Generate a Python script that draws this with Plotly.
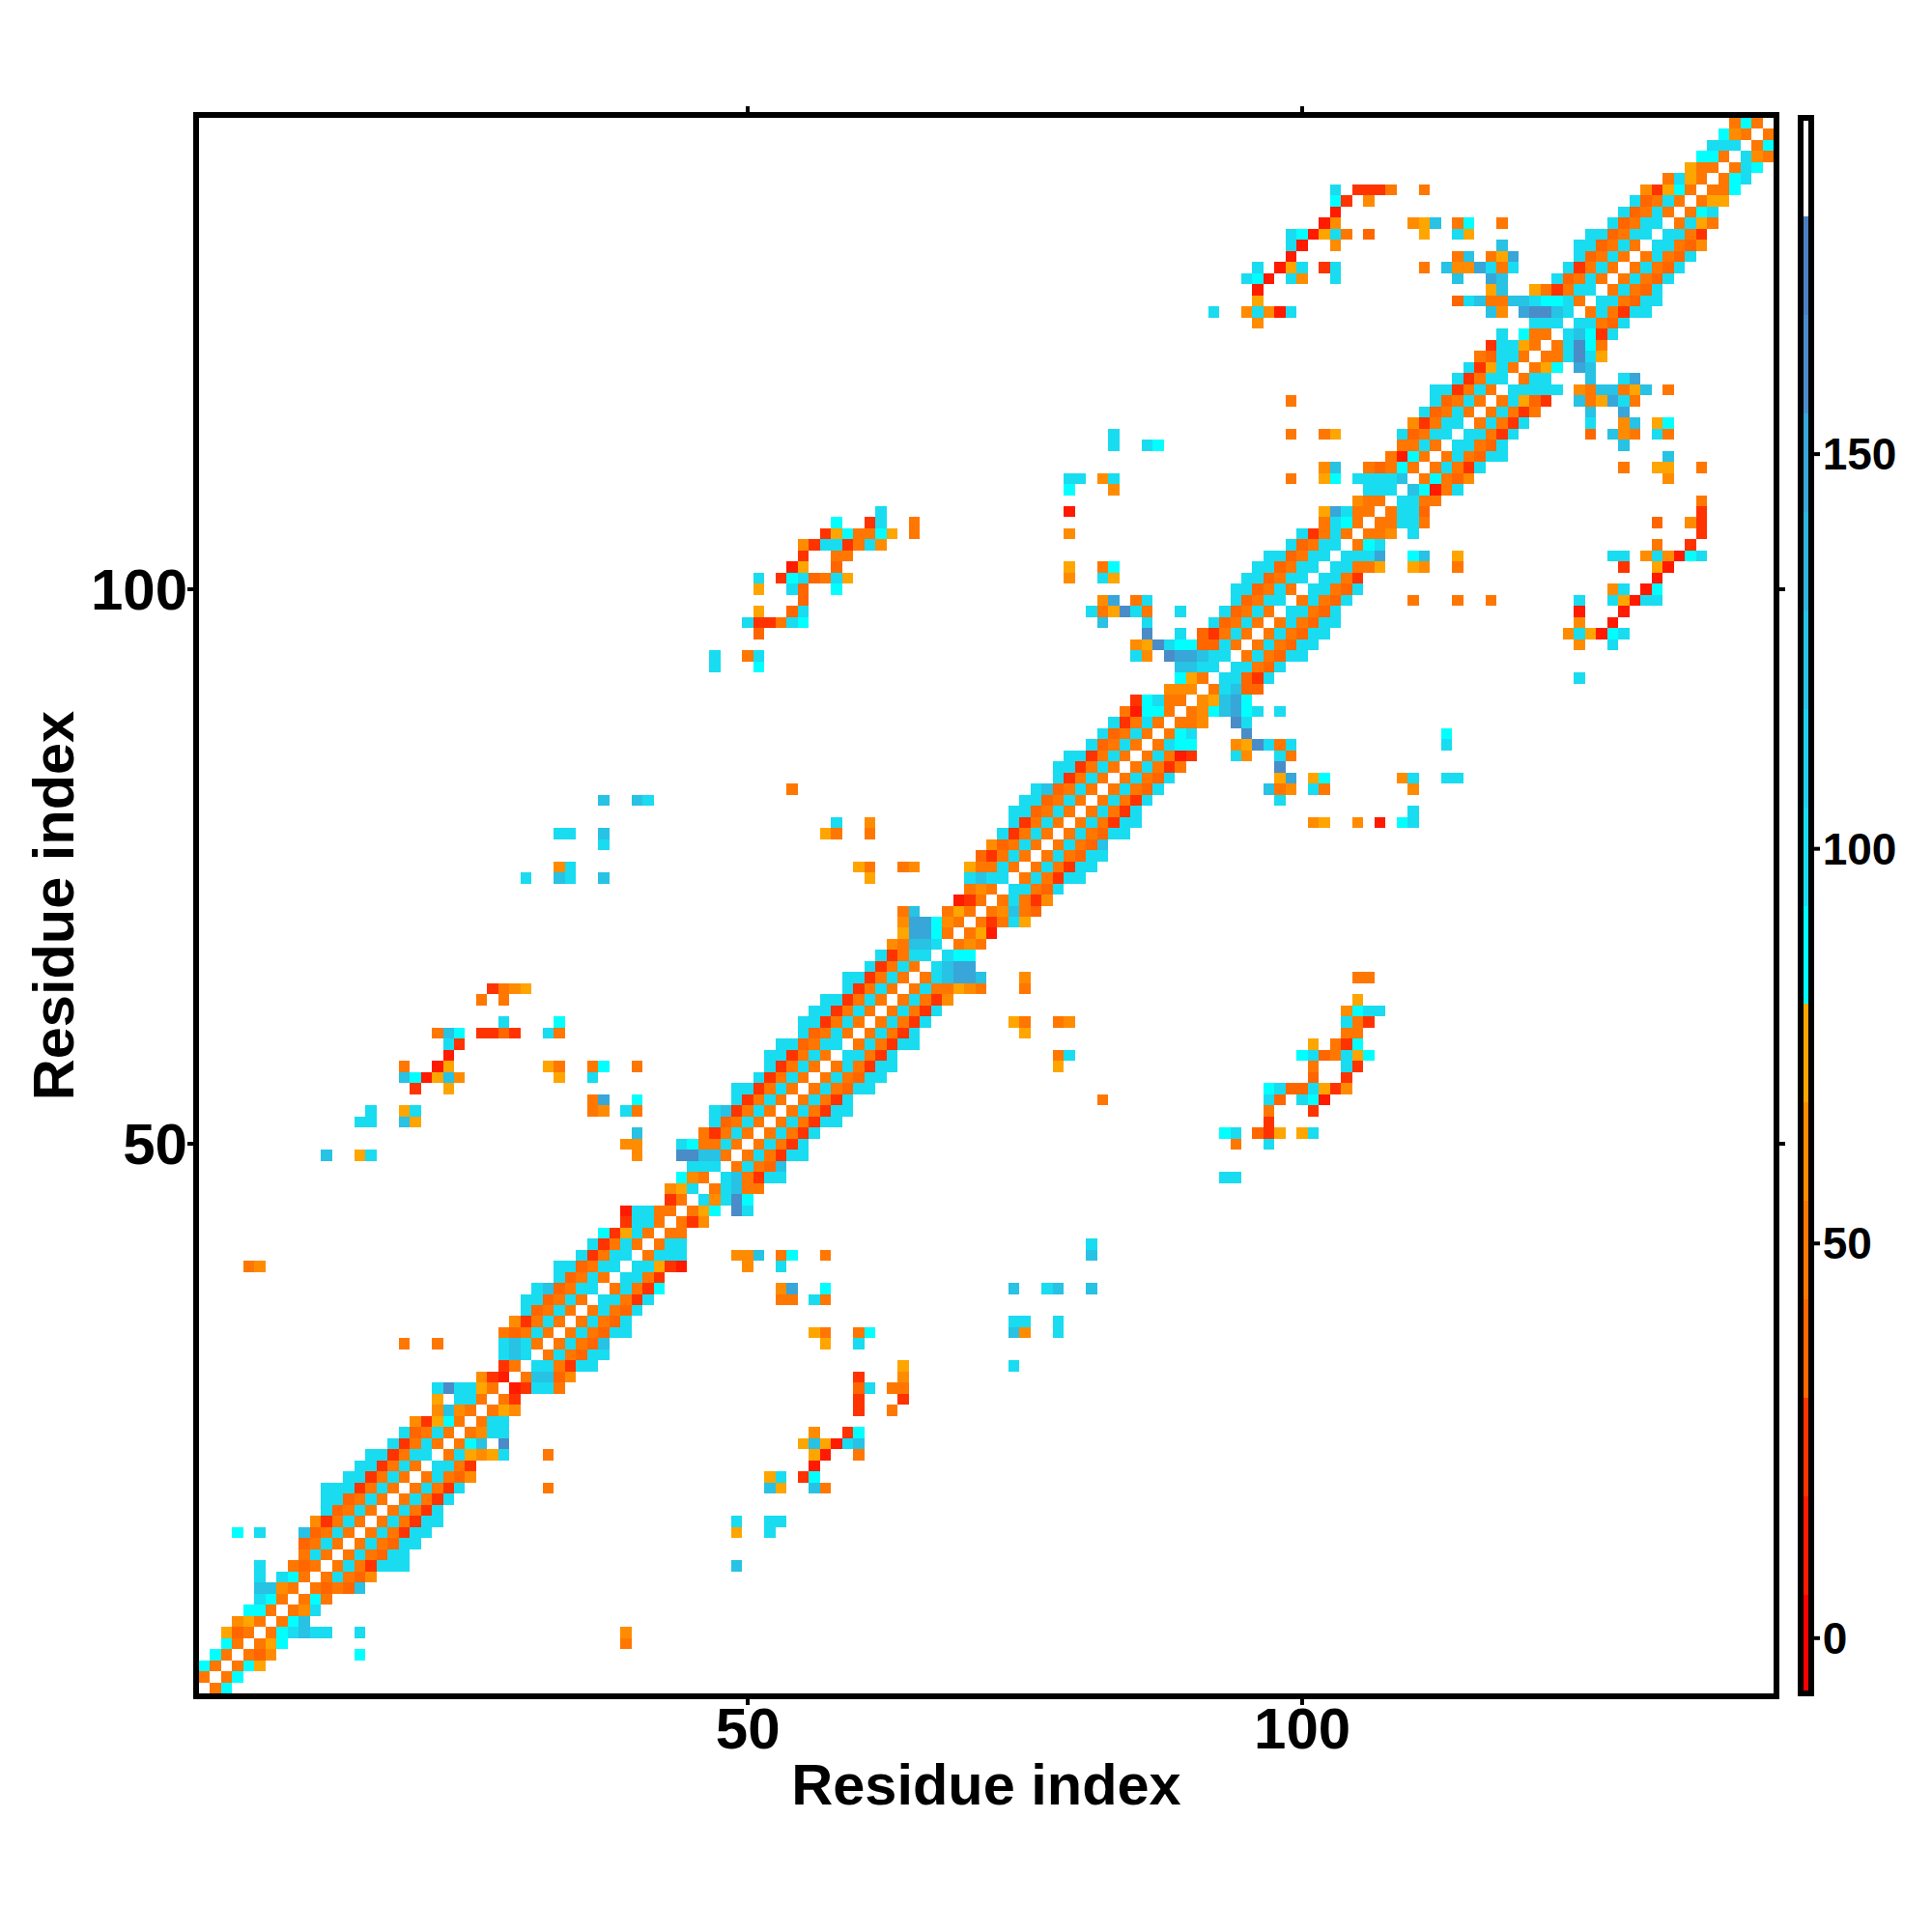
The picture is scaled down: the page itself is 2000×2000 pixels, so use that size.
# -*- coding: utf-8 -*-
"""
Mapa de contactos por residuo: matriz simétrica, leída de la figura
"""

import numpy as np
import plotly.graph_objects as go

# ======== DATOS =========
N_RES = 142

# valor representativo de cada código de color
LEVEL = dict(a=11, b=24, c=36, d=49, e=61, f=74, g=86, h=99, i=124, j=148, k=160)

# banda junto a la diagonal: fila r, empezando en la columna r + 1
band_codes = [
    "dg", "dg", "dgf", "dce", "dfg", "dghihh", "dgi", "deh", "dgd", "dcdci",
    "dhdce", "dhdbhhh", "dhdchh", "dhdchh", "dhdbhh", "dhdbhh", "dhdbh", "dhdbh", "dhdbh", "dhdce",
    "hhdb", "dhfefh", "dgi", "dehh", "dhh", "dfe", "db", "abhhd", "diice", "hhdbhh",
    "dhdchh", "dhdci", "dhdchh", "dhdch", "dhdch", "hhdbh", "dhdbg", "hhdb", "hhfba", "dhhh",
    "dhh", "dd", "dbe", "dfg", "hehkg", "dhidd", "hidbhh", "dhdci", "dhdbhh", "dhdbh",
    "dhdbh", "dhdbhh", "dhdbhh", "dhdbh", "dhdchh", "dhdchh", "dhdbhh", "hhdbh", "dhdbhh", "dhdbh",
    "dhdbh", "dhdbh", "dhdbe", "dhddfed", "dhijji", "hijj", "hgg", "ded", "dfa", "dbdhf",
    "deidc", "dhdbe", "hhdch", "dhdbhh", "dhdbhh", "dhdchh", "dhdci", "dhdchh", "dhdbhh", "dhdbh",
    "dhdbh", "dhdch", "dhdch", "dhdbd", "dhdab", "dhgg", "dgh", "dde", "degijgh", "efijg",
    "dhicc", "hhcbh", "hhdch", "dhdchh", "dhdchh", "dhdchh", "dhdchh", "hhdch", "dhdch", "hhdch",
    "hhdb", "hhddf", "hhhj", "dgh", "dde", "ddhhd", "dhhc", "hhdd", "igadh", "dgdce",
    "dhdbh", "dhdchh", "hhdch", "hhdbh", "dhdbh", "dhdbd", "dhfcb", "hhhhh", "dhh", "dfg",
    "ddhkhf", "dhkgd", "higbh", "hhdch", "dhdbhh", "hhdchh", "dhdch", "dhdch", "dhdch", "dhdch",
    "hhdce", "hhdb", "dhfd", "dgh", "dff", "ddg", "dgh", "dhg", "hed", "dg", "d",
]

# contactos lejos de la diagonal: fila, primera columna, códigos
far_rows = [
    4, 5, 6, 6, 12, 15, 15, 16, 16, 19, 19, 19, 20, 20, 21, 22, 22, 22, 23, 23,
    24, 24, 26, 26, 27, 27, 28, 28, 29, 29, 30, 30, 32, 32, 33, 33, 33, 33, 34, 34,
    36, 36, 37, 37, 37, 37, 37, 39, 39, 40, 40, 40, 40, 41, 44, 47, 50, 50, 51, 51,
    51, 51, 52, 53, 53, 54, 54, 54, 55, 56, 56, 57, 57, 57, 58, 58, 59, 59, 60, 60,
    61, 61, 61, 62, 63, 64, 65, 65, 79, 79, 79, 79, 80, 81, 82, 82, 82, 83, 83, 83,
    83, 84, 85, 85, 86, 86, 87, 87, 88, 89, 92, 95, 95, 96, 97, 97, 98, 98, 99, 99,
    99, 99, 99, 100, 100, 101, 102, 102, 102, 102, 103, 103, 103, 103, 104, 104, 105, 105, 106, 106,
    107, 108, 110, 111, 111, 111, 112, 113, 114, 114, 114, 115, 115, 115, 116, 116, 117, 118, 118, 119,
    119, 120,
]
far_first = [
    15, 39, 15, 39, 49, 49, 52, 49, 52, 32, 52, 56, 52, 55, 56, 32, 56, 60, 28, 55,
    56, 59, 60, 63, 60, 64, 60, 63, 60, 64, 64, 74, 57, 60, 56, 60, 74, 78, 74, 78,
    53, 56, 53, 57, 74, 77, 81, 50, 53, 49, 53, 57, 81, 81, 49, 93, 94, 97, 93, 96,
    100, 97, 97, 97, 101, 82, 97, 100, 97, 101, 104, 78, 101, 104, 78, 100, 101, 103, 75, 104,
    74, 78, 104, 104, 105, 75, 75, 105, 101, 105, 107, 109, 110, 98, 97, 101, 110, 98, 101, 109,
    113, 98, 94, 98, 94, 113, 95, 113, 94, 98, 125, 125, 128, 124, 125, 128, 125, 129, 110, 114,
    117, 125, 128, 128, 131, 132, 110, 114, 129, 132, 110, 114, 128, 131, 132, 135, 110, 136, 132, 135,
    136, 136, 133, 129, 132, 136, 133, 129, 126, 128, 132, 126, 129, 132, 126, 129, 125, 125, 133, 126,
    129, 125,
]
far_codes = [
    "g", "d", "h", "e", "i", "f", "h", "h", "hh", "d", "if", "id", "fh", "bg", "a", "d", "fa", "d", "k", "fifahi",
    "e", "bg", "b", "d", "b", "b", "ch", "dd", "b", "e", "f", "h", "f", "h", "fd", "dg", "ie", "h", "hh", "h",
    "dd", "hd", "ej", "g", "i", "hi", "i", "e", "h", "eei", "dg", "d", "i", "h", "kh", "hh", "d", "h", "gh", "chf",
    "fh", "b", "b", "d", "b", "d", "hc", "hga", "ghcchfbe", "c", "b", "f", "d", "hb", "dh", "ghcdhfg", "f", "dbg", "f", "dd",
    "fd", "de", "hdb", "eghh", "f", "d", "e", "dd", "ef", "e", "a", "gh", "h", "h", "ide", "hd", "e", "fj", "fg", "eh",
    "hh", "k", "he", "hd", "efkhdh", "h", "k", "g", "kh", "h", "h", "e", "h", "ehfagh", "e", "a", "a", "a", "d", "d",
    "d", "h", "hfahh", "eh", "ag", "a", "fe", "d", "b", "fa", "gi", "f", "hh", "eheagh", "d", "b", "h", "b", "c", "eb",
    "b", "d", "e", "d", "ff", "d", "i", "i", "c", "ied", "hd", "h", "ei", "fg", "i", "j", "idfjhd", "ediidfi", "d", "i",
    "hj", "ji",
]

x_ticks = [50, 100]
y_ticks = [50, 100]
cbar_ticks = [0, 50, 100, 150]

# ======== MATRIZ =========
residues = np.arange(1, N_RES + 1)
z = np.full((N_RES, N_RES), np.nan)


def put(row, first, codes):
    for k, code in enumerate(codes):
        col = first + k
        z[row - 1, col - 1] = LEVEL[code]
        z[col - 1, row - 1] = LEVEL[code]


for r, codes in enumerate(band_codes, start=1):
    put(r, r + 1, codes)
for r, first, codes in zip(far_rows, far_first, far_codes):
    put(r, first, codes)

# ======== ESCALA =========
ZMIN, ZMAX = -7.0, 192.6
bin_colors = [
    "#ff0000", "#ff1a00", "#ff3300", "#ff6600", "#ff7700", "#ff8c00", "#ffa500",
    "#00ffff", "#19dcf0", "#1fd0ec", "#27c2e4", "#2fb4de", "#38a6d8", "#4a8cc8", "#4a80c0",
    "#ffffff",
]
colorscale = []
for k, color in enumerate(bin_colors):
    colorscale.append([k / len(bin_colors), color])
    colorscale.append([(k + 1) / len(bin_colors), color])

# ======== FIGURA =========
FONT = "Liberation Sans"
CB_X = 1.0172
CB_THICK = 11
PLOT_W = 2000 - 198 - 172

fig = go.Figure(go.Heatmap(
    x=residues, y=residues, z=z,
    zmin=ZMIN, zmax=ZMAX,
    colorscale=colorscale,
    hoverongaps=False,
    colorbar=dict(
        x=CB_X, xanchor="left", xpad=0,
        y=0, yanchor="bottom", ypad=0,
        len=1, lenmode="fraction",
        thickness=CB_THICK, thicknessmode="pixels",
        outlinecolor="black", outlinewidth=6,
        ticks="outside", ticklen=0, tickwidth=4, tickcolor="black",
        tickvals=cbar_ticks,
        tickfont=dict(family=FONT, size=46, color="black", weight="bold"),
    ),
))

# marcas de la barra de color: la etiqueta queda pegada, como en la original
bar_right = CB_X + (CB_THICK + 3) / PLOT_W
for v in cbar_ticks:
    frac = (v - ZMIN) / (ZMAX - ZMIN)
    fig.add_shape(type="line", xref="paper", yref="paper",
                  x0=bar_right, x1=bar_right + 6 / PLOT_W, y0=frac, y1=frac,
                  line=dict(color="black", width=4))

axis_style = dict(
    range=[0.5, N_RES + 0.5],
    showgrid=False, zeroline=False,
    showline=True, linecolor="black", linewidth=6,
    mirror="ticks",
    ticks="outside", ticklen=6, tickwidth=4, tickcolor="black",
    tickfont=dict(family=FONT, size=60, color="black", weight="bold"),
)
fig.update_xaxes(
    tickvals=x_ticks,
    ticklabelstandoff=-27,
    title=dict(text="Residue index", standoff=6,
               font=dict(family=FONT, size=59.5, color="black", weight="bold")),
    **axis_style,
)
fig.update_yaxes(
    tickvals=y_ticks,
    ticklabelstandoff=-12,
    title=dict(text="Residue index", standoff=0,
               font=dict(family=FONT, size=59.5, color="black", weight="bold")),
    **axis_style,
)

fig.update_layout(
    width=2000, height=2000,
    margin=dict(l=198, r=172, t=114, b=255, autoexpand=False),
    paper_bgcolor="white", plot_bgcolor="white",
)

fig.write_html("out.html")
